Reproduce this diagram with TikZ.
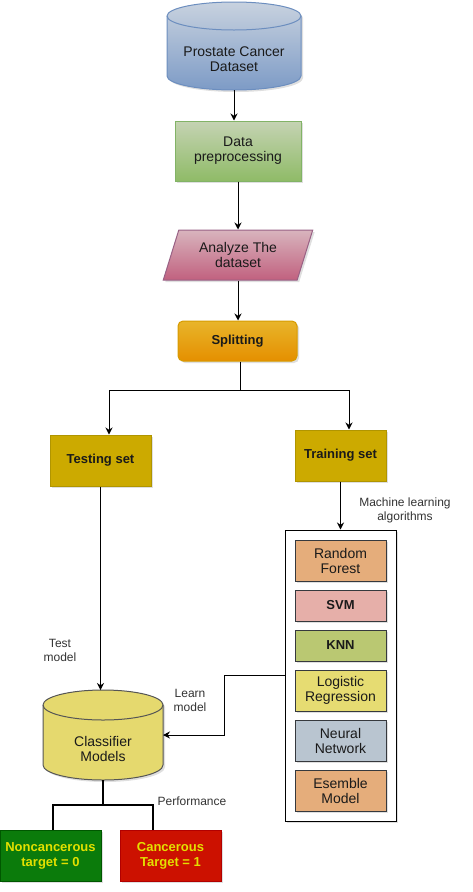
\documentclass[tikz,border=0pt]{standalone}
\usepackage{fontspec}
\setmainfont{Liberation Sans}
\usetikzlibrary{shapes.geometric,shadows,arrows.meta}
\definecolor{dstop}{HTML}{C8D2DF}
\definecolor{dsbot}{HTML}{7D9BC6}
\definecolor{dsline}{HTML}{6C8EBF}
\definecolor{pretop}{HTML}{C5D3B3}
\definecolor{prebot}{HTML}{8FBB67}
\definecolor{preline}{HTML}{82B366}
\definecolor{anatop}{HTML}{D8B4BD}
\definecolor{anabot}{HTML}{C1617F}
\definecolor{analine}{HTML}{996185}
\definecolor{splittop}{HTML}{E8B52A}
\definecolor{splitbot}{HTML}{E58F00}
\definecolor{splitline}{HTML}{D79B00}
\definecolor{setfill}{HTML}{CCAA00}
\definecolor{setline}{HTML}{B09500}
\definecolor{algoline}{HTML}{36393D}
\definecolor{rffill}{HTML}{E5AD7B}
\definecolor{svmfill}{HTML}{E6AFA9}
\definecolor{knnfill}{HTML}{BAC872}
\definecolor{lrfill}{HTML}{E6DC72}
\definecolor{nnfill}{HTML}{B9C5D0}
\definecolor{clsfill}{HTML}{E5D96E}
\definecolor{clsline}{HTML}{555555}
\definecolor{negfill}{HTML}{0B7B0B}
\definecolor{negline}{HTML}{005700}
\definecolor{posfill}{HTML}{CC1100}
\definecolor{posline}{HTML}{B20000}
\definecolor{outtext}{HTML}{E3E000}
\definecolor{boxtext}{HTML}{1A1A1A}
\definecolor{notetext}{HTML}{333333}
\begin{document}
\begin{tikzpicture}[x=1pt,y=-1pt,font=\fontsize{14}{15}\selectfont]
	\tikzstyle{box}=[rectangle,draw,line width=1pt,align=center,text=boxtext,inner sep=1pt,drop shadow={shadow xshift=2pt,shadow yshift=-2pt,opacity=0.25}]
	\tikzstyle{dbnode}=[rectangle,inner sep=0pt,outer sep=0pt]
	\tikzstyle{dbshape}=[line width=1pt,drop shadow={shadow xshift=2pt,shadow yshift=-2pt,opacity=0.25}]
	\tikzstyle{dbtext}=[align=center,text=boxtext]
	\tikzstyle{strong}=[font=\fontsize{13}{15}\selectfont\bfseries]
	\tikzstyle{algo}=[box,draw=algoline,minimum width=91,minimum height=41]
	\tikzstyle{edge}=[draw,line width=1pt,->,>={Stealth[length=7pt,width=7pt]}]
	\tikzstyle{note}=[font=\fontsize{12}{14}\selectfont,text=notetext,align=center]
	\useasboundingbox (0,0) rectangle (472,892);
	\begin{scope}
		\node [dbnode,minimum width=134,minimum height=88] (ds) at (234,46) {};
		\path [dbshape,draw=dsline,top color=dstop,bottom color=dsbot] ([yshift=-14pt]ds.north west) -- ([yshift=14pt]ds.south west) arc[start angle=180,end angle=360,x radius=67pt,y radius=14pt] -- ([yshift=-14pt]ds.north east) arc[start angle=0,end angle=180,x radius=67pt,y radius=14pt] -- cycle;
		\draw [dsline,line width=1pt] ([yshift=-14pt]ds.north west) arc[start angle=180,end angle=360,x radius=67pt,y radius=14pt];
		\node [dbtext] (dstext) at ([yshift=-13.5pt]ds.center) {Prostate Cancer\\Dataset};
		\node [box,minimum width=126,minimum height=60,draw=preline,top color=pretop,bottom color=prebot] (pre) at (238,151) {Data\\preprocessing};
		\node [box,trapezium,trapezium left angle=69,trapezium right angle=111,trapezium stretches=true,minimum width=150,minimum height=50,draw=analine,top color=anatop,bottom color=anabot] (ana) at (238,255) {Analyze The\\dataset};
		\node [box,strong,rounded corners=5pt,minimum width=119,minimum height=40,draw=splitline,top color=splittop,bottom color=splitbot] (split) at (237.5,341) {Splitting};
		\node [box,strong,minimum width=101,minimum height=51,draw=setline,fill=setfill] (test) at (100.5,460.5) {Testing set};
		\node [box,strong,minimum width=91,minimum height=51,draw=setline,fill=setfill] (train) at (340.5,455.5) {Training set};
		\node [box,minimum width=111,minimum height=291,draw=black,fill=white] (algos) at (340.5,675.5) {};
		\node [algo,fill=rffill] (rf) at (340.5,560.5) {Random\\Forest};
		\node [algo,strong,fill=svmfill,minimum height=31] (svm) at (340.5,605.5) {SVM};
		\node [algo,strong,fill=knnfill,minimum height=31] (knn) at (340.5,645.5) {KNN};
		\node [algo,fill=lrfill] (lr) at (340.5,690.5) {Logistic\\Regression};
		\node [algo,fill=nnfill] (nn) at (340.5,740.5) {Neural\\Network};
		\node [algo,fill=rffill] (em) at (340.5,790.5) {Esemble\\Model};
		\node [dbnode,minimum width=120,minimum height=90] (cls) at (103,735) {};
		\path [dbshape,draw=clsline,fill=clsfill] ([yshift=-15pt]cls.north west) -- ([yshift=15pt]cls.south west) arc[start angle=180,end angle=360,x radius=60pt,y radius=15pt] -- ([yshift=-15pt]cls.north east) arc[start angle=0,end angle=180,x radius=60pt,y radius=15pt] -- cycle;
		\draw [clsline,line width=1pt] ([yshift=-15pt]cls.north west) arc[start angle=180,end angle=360,x radius=60pt,y radius=15pt];
		\node [dbtext] (clstext) at ([yshift=-13.5pt]cls.center) {Classifier\\Models};
		\node [box,strong,minimum width=101,minimum height=51,draw=negline,fill=negfill,text=outtext] (neg) at (50.5,855.5) {Noncancerous\\target = 0};
		\node [box,strong,minimum width=101,minimum height=51,draw=posline,fill=posfill,text=outtext] (pos) at (170.5,855.5) {Cancerous\\Target = 1};
		\coordinate (fork) at (240,390);
		\coordinate (bend) at (224,675.5);
		\coordinate (perf) at (103,805);
		\path[edge] (ds.south) -- (ds.south |- pre.north);
		\path[edge] (pre) -- (ana);
		\path[edge] (ana.south) -- (ana.south |- split.north);
		\draw[line width=1pt] (split.south -| fork) -- (fork);
		\path[edge] (fork) -| ([xshift=8.5pt]test.north);
		\path[edge] (fork) -| ([xshift=8.5pt]train.north);
		\path[edge] (train) -- (algos);
		\path[edge] (test.south) -- (test.south |- cls.north);
		\path[edge] (algos.west) -- (bend) |- (cls.east);
		\draw[line width=2pt] (cls.south) -- (perf) -| ([xshift=2.5pt]neg.north);
		\draw[line width=2pt] (perf) -| ([xshift=-17.5pt]pos.north);
		\node [note] (testlbl) at (60,650) {Test\\model};
		\node [note] (learnlbl) at (190,700) {Learn\\model};
		\node [note] (mllbl) at (405,510) {Machine learning\\algorithms};
		\node [note] (perflbl) at (192,801) {Performance};
	\end{scope}
\end{tikzpicture}
\end{document}
